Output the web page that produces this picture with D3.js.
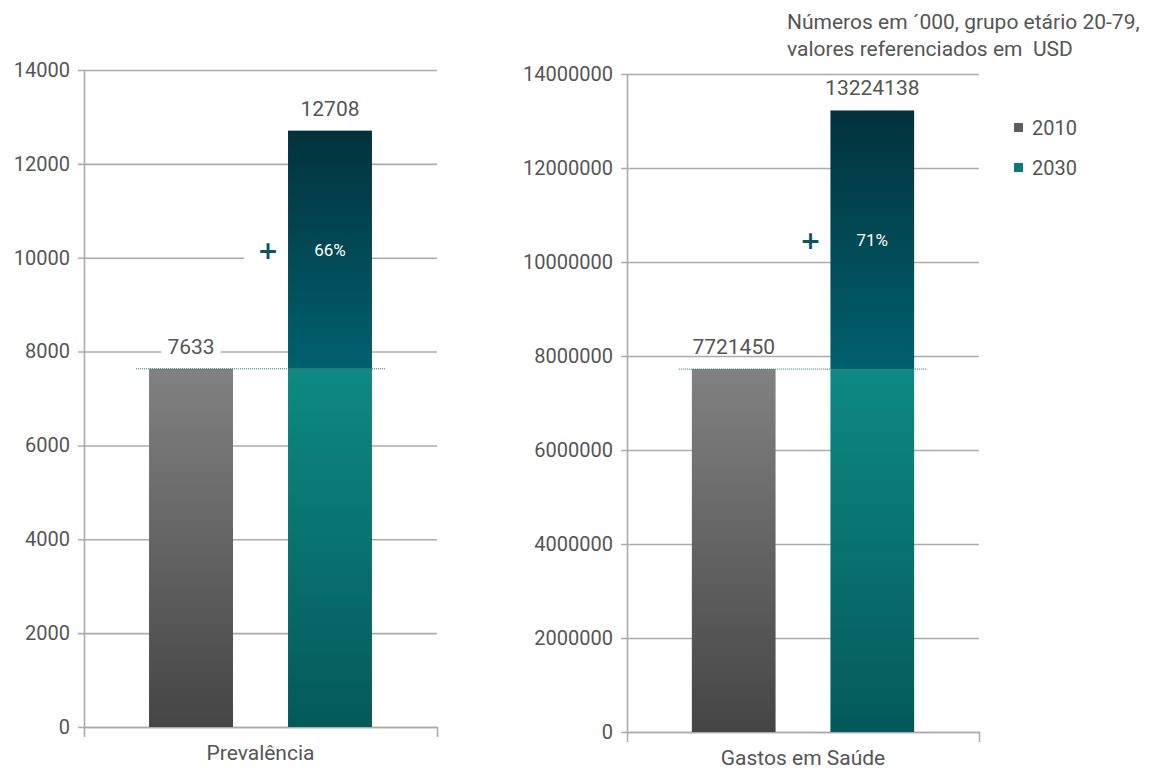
<!DOCTYPE html>
<html>
<head>
<meta charset="utf-8">
<script src="https://cdnjs.cloudflare.com/ajax/libs/d3/7.8.5/d3.min.js"></script>
<style>
  body { margin: 0; background: #fff; }
  text { font-family: "Liberation Sans Narrow", "Roboto", sans-serif; fill: #555; }
</style>
</head>
<body>
<div id="chart"></div>
<script>
// data
var categories = ["Prevalência", "Gastos em Saúde"];
var years = ["2010", "2030"];
var values2010 = [7633, 7721450];
var values2030 = [12708, 13224138];
var growth = ["66%", "71%"];
var yMax = [14000, 14000000];
var yTicks = [
  [0, 2000, 4000, 6000, 8000, 10000, 12000, 14000],
  [0, 2000000, 4000000, 6000000, 8000000, 10000000, 12000000, 14000000]
];
var note = ["Números em ´000, grupo etário 20-79,", "valores referenciados em  USD"];

// layout of the two panels
var panels = [
  {left: 84, right: 437, top: 70, bottom: 727},
  {left: 627, right: 979, top: 74, bottom: 732}
];

var svg = d3.select("#chart").append("svg")
  .attr("width", 1157)
  .attr("height", 772);

// gradients
var defs = svg.append("defs");
function grad(id, top, bottom) {
  var g = defs.append("linearGradient").attr("id", id)
    .attr("x1", 0).attr("y1", 0).attr("x2", 0).attr("y2", 1);
  g.append("stop").attr("offset", "0%").attr("stop-color", top);
  g.append("stop").attr("offset", "100%").attr("stop-color", bottom);
}
grad("gGray", "#818181", "#454545");
grad("gTeal", "#0d8a82", "#04595a");
grad("gDark", "#02323c", "#01606e");

var gridColor = "#ababab";

categories.forEach(function(cat, i) {
  var p = panels[i];
  var w = p.right - p.left, h = p.bottom - p.top;
  var g = svg.append("g").attr("transform", "translate(" + p.left + "," + p.top + ")");

  var y = d3.scaleLinear().domain([0, yMax[i]]).range([h, 0]);
  var x = d3.scaleBand().domain(years).range([0, w]).paddingInner(0.396).paddingOuter(0.468);
  var xCat = d3.scaleBand().domain([cat]).range([0, w]);

  // grid + tick labels
  var yAxis = g.append("g")
    .call(d3.axisLeft(y).tickValues(yTicks[i]).tickFormat(d3.format("d"))
      .tickSizeInner(-w - 6).tickSizeOuter(0).tickPadding(14));
  yAxis.selectAll(".tick line").attr("x1", -6).attr("x2", w)
    .attr("stroke", gridColor).attr("stroke-width", 1.6);
  yAxis.select(".domain").attr("stroke", gridColor).attr("stroke-width", 1.6);
  yAxis.selectAll("text").style("font-size", "20px").attr("fill", "#555");

  // category axis with outer ticks
  var xAxis = g.append("g").attr("transform", "translate(0," + h + ")")
    .call(d3.axisBottom(xCat).tickSizeInner(0).tickSizeOuter(10).tickPadding(18));
  xAxis.select(".domain").attr("stroke", gridColor).attr("stroke-width", 1.6);
  xAxis.selectAll("text").style("font-size", "21px").attr("fill", "#555");

  var v0 = values2010[i], v1 = values2030[i];
  var bw = x.bandwidth();
  var my = (y(v0) + y(v1)) / 2;

  // white gap in the grid behind the "+" mark
  g.append("rect")
    .attr("x", x("2030") - 44).attr("y", my - 13)
    .attr("width", 46).attr("height", 26).attr("fill", "#fff");

  // 2010 bar
  g.append("rect")
    .attr("x", x("2010")).attr("y", y(v0))
    .attr("width", bw).attr("height", h - y(v0))
    .attr("fill", "url(#gGray)");

  // 2030 bar: base part and increase part
  g.append("rect")
    .attr("x", x("2030")).attr("y", y(v0))
    .attr("width", bw).attr("height", h - y(v0))
    .attr("fill", "url(#gTeal)");
  g.append("rect")
    .attr("x", x("2030")).attr("y", y(v1))
    .attr("width", bw).attr("height", y(v0) - y(v1))
    .attr("fill", "url(#gDark)");

  // dotted reference line at 2010 level
  g.append("line")
    .attr("x1", x("2010") - 13).attr("x2", x("2030") + bw + 13)
    .attr("y1", y(v0)).attr("y2", y(v0))
    .attr("stroke", "#2f6a70").attr("stroke-width", 1)
    .attr("stroke-dasharray", "1,1");

  // value labels with white background
  [[ "2010", v0 ], [ "2030", v1 ]].forEach(function(d) {
    var cx = x(d[0]) + bw / 2, by = y(d[1]) - 15;
    var t = g.append("text").attr("x", cx).attr("y", by)
      .attr("text-anchor", "middle").style("font-size", "21px")
      .text(d[1]);
    var bb = t.node().getBBox();
    g.insert("rect", function() { return t.node(); })
      .attr("x", bb.x - 6).attr("y", bb.y + 2)
      .attr("width", bb.width + 12).attr("height", by + 1 - bb.y - 2)
      .attr("fill", "#fff");
  });

  // growth mark
  g.append("text")
    .attr("x", x("2030") - 20).attr("y", my)
    .attr("dy", "0.36em").attr("text-anchor", "middle")
    .style("font-family", "DejaVu Sans, sans-serif")
    .style("font-size", "25px").style("font-weight", "bold")
    .style("fill", "#0c5560")
    .text("+");
  g.append("text")
    .attr("x", x("2030") + bw / 2).attr("y", my)
    .attr("dy", "0.36em").attr("text-anchor", "middle")
    .style("font-size", "17px").style("fill", "#fff")
    .text(growth[i]);
});

// legend
var legendColors = ["#5e5e5e", "#0a7a74"];
var legend = svg.append("g").attr("transform", "translate(1014,123)");
years.forEach(function(yr, i) {
  var lg = legend.append("g").attr("transform", "translate(0," + (i * 40) + ")");
  lg.append("rect").attr("width", 9).attr("height", 9).attr("fill", legendColors[i]);
  lg.append("text").attr("x", 18).attr("y", 4.5).attr("dy", "0.36em")
    .style("font-size", "20px").text(yr);
});

// note
svg.append("g").selectAll("text").data(note).enter().append("text")
  .attr("x", 787).attr("y", function(d, i) { return 29 + i * 27; })
  .style("font-size", "21px").style("white-space", "pre")
  .text(function(d) { return d; });
</script>
</body>
</html>
